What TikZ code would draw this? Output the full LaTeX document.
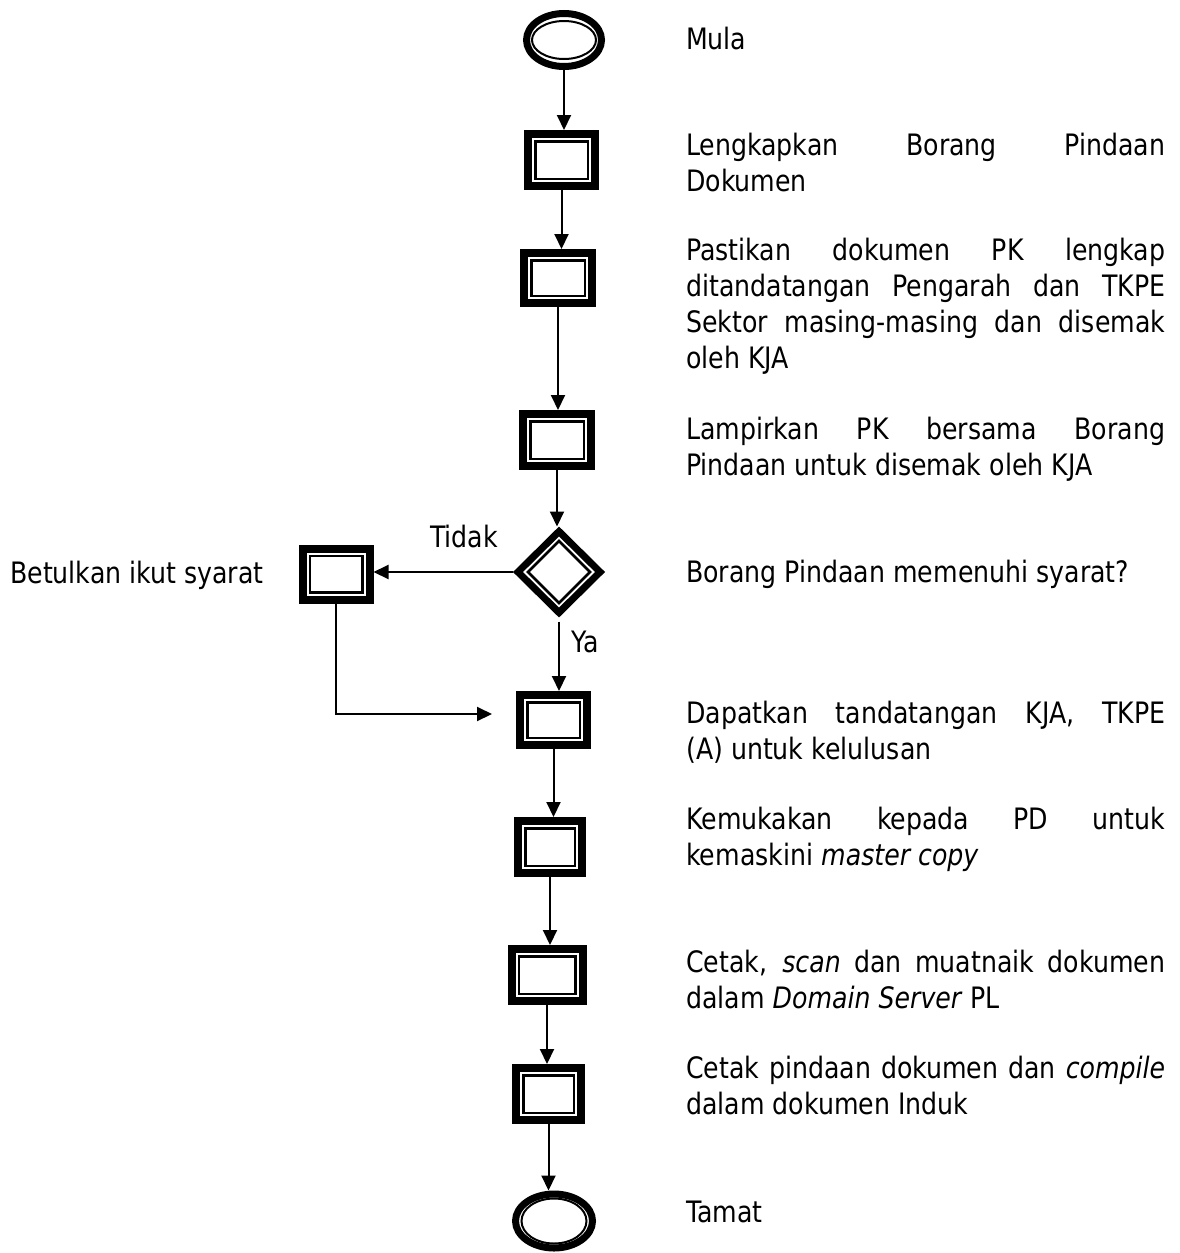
\documentclass[tikz,border=0pt]{standalone}
\usepackage{fontspec}
\setmainfont{DejaVu Sans}[FakeStretch=0.855, ItalicFont=DejaVu Sans Oblique, BoldFont=DejaVu Sans Bold]
\usetikzlibrary{shapes.geometric,arrows.meta}
\hyphenpenalty=10000
\exhyphenpenalty=10000
\tolerance=9999
\hbadness=10000
\begin{document}
\begin{tikzpicture}[x=1pt,y=-1pt,
  font=\fontsize{29.5}{36}\selectfont,
  procbox/.style={rectangle, draw, line width=8pt, inner sep=0pt,
    minimum width=67pt, minimum height=52pt,
    path picture={\draw[line width=2.5pt]
      ([shift={(7.25pt,-7.25pt)}]path picture bounding box.north west) rectangle
      ([shift={(-7.25pt,7.25pt)}]path picture bounding box.south east);}},
  term/.style 2 args={ellipse, draw, line width=7pt, inner sep=0pt,
    path picture={\draw[line width=2pt] (path picture bounding box.center)
      ellipse [x radius=#1, y radius=#2];}},
  decision/.style={diamond, draw, line width=7pt, inner sep=0pt,
    minimum width=85pt, minimum height=84pt, aspect=1,
    path picture={\draw[line width=2.5pt]
      ([yshift=31pt]path picture bounding box.center) --
      ([xshift=31pt]path picture bounding box.center) --
      ([yshift=-31pt]path picture bounding box.center) --
      ([xshift=-31pt]path picture bounding box.center) -- cycle;}},
  desc/.style={anchor=base west, inner sep=0pt, text width=479pt, align=justify},
  lbl/.style={anchor=base west, inner sep=0pt},
  arr/.style={line width=2pt, -{Triangle[length=15pt,width=14pt]}}
]
\fill[white] (0,0) rectangle (1179,1253);
\useasboundingbox (0,0) rectangle (1179,1253);

% shapes
\node[term={32pt}{19pt}, minimum width=75pt, minimum height=53pt] (start) at (564,40) {};
\node[procbox] (s1) at (561.5,160) {};
\node[procbox, minimum width=68pt, minimum height=50pt] (s2) at (558,278) {};
\node[procbox, minimum width=68pt] (s3) at (557,440) {};
\node[decision] (dec) at (559,572) {};
\node[procbox, minimum height=51pt] (fix) at (336,574) {};
\node[procbox, minimum height=50pt] (s5) at (553.5,720) {};
\node[procbox, minimum width=64pt] (s6) at (550,847) {};
\node[procbox, minimum width=71pt] (s7) at (547,975) {};
\node[procbox, minimum width=65pt] (s8) at (548.5,1094) {};
\node[term={32.5pt}{22.5pt}, minimum width=77pt, minimum height=54pt] (end) at (554,1221) {};
\coordinate (gapend) at (492,714);

% connectors
\draw[arr] (start.south) -- (start.south |- s1.north);
\draw[arr] (s1.south) -- (s1.south |- s2.north);
\draw[arr] (s2.south) -- (s2.south |- s3.north);
\draw[arr] (s3.south) -- (s3.south |- dec.north);
\draw[arr] (dec.west) -- (dec.west -| fix.east);
\draw[arr, shorten <=4pt] (dec.south) -- (dec.south |- s5.north);
\draw[arr] (fix.south) |- (gapend);
\draw[arr] (s5.south) -- (s5.south |- s6.north);
\draw[arr] (s6.south) -- (s6.south |- s7.north);
\draw[arr] (s7.south) -- (s7.south |- s8.north);
\draw[arr] (s8.south) -- (s8.south |- end.north);

% labels
\node[lbl] (tidak) at (430,547) {Tidak};
\node[lbl] (ya) at (571,652) {Ya};
\node[lbl] (betul) at (10,583) {Betulkan ikut syarat};

% descriptions
\node[desc] (t0) at (686,49) {Mula};
\node[desc] (t1) at (686,155) {Lengkapkan Borang Pindaan\linebreak Dokumen};
\node[desc] (t2) at (686,260) {Pastikan dokumen PK lengkap\linebreak ditandatangan Pengarah dan TKPE\linebreak Sektor masing-masing dan disemak\linebreak oleh KJA};
\node[desc] (t3) at (686,439) {Lampirkan PK bersama Borang\linebreak Pindaan untuk disemak oleh KJA};
\node[desc] (t4) at (686,582) {Borang Pindaan memenuhi syarat?};
\node[desc] (t5) at (686,723) {Dapatkan tandatangan KJA, TKPE\linebreak (A) untuk kelulusan};
\node[desc] (t6) at (686,829) {Kemukakan kepada PD untuk\linebreak kemaskini \textit{master copy}};
\node[desc] (t7) at (686,972) {Cetak, \textit{scan} dan muatnaik dokumen\linebreak dalam \textit{Domain Server} PL};
\node[desc] (t8) at (686,1078) {Cetak pindaan dokumen dan \textit{compile}\linebreak dalam dokumen Induk};
\node[desc] (t9) at (686,1222) {Tamat};
\end{tikzpicture}
\end{document}
